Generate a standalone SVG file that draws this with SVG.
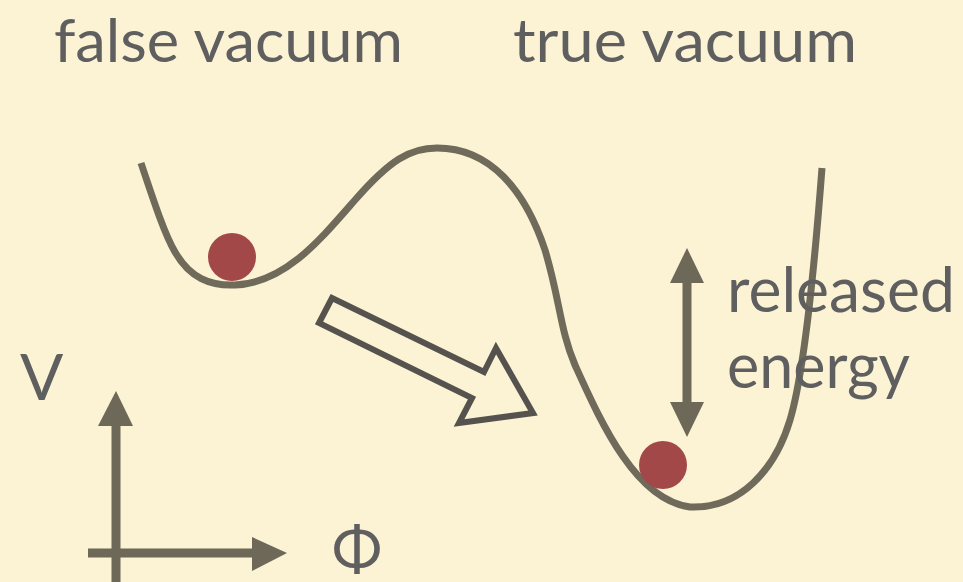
<svg xmlns="http://www.w3.org/2000/svg" width="963" height="582" viewBox="0 0 963 582">
<style>
.t{font-family:Lato,"Open Sans","Liberation Sans",sans-serif;fill:#5f5f60;}
.ax{stroke:#6e6858;stroke-width:9;fill:none;}
.hd{fill:#6e6858;}
.ball{fill:#a34848;}
</style>
<rect width="963" height="582" fill="#fbf3d4"/>
<g id="title-false"><text class="t" x="54" y="62" font-size="60" textLength="349" lengthAdjust="spacingAndGlyphs">false vacuum</text></g>
<g id="title-true"><text class="t" x="513" y="62" font-size="60" textLength="344" lengthAdjust="spacingAndGlyphs">true vacuum</text></g>
<g id="potential">
<path d="M141,163 C155,205 165,235 175,252 C190,278 210,286 235,285 C285,283 320,240 355,200 C390,160 410,148 437,148 C490,148 525,190 545,250 C560,300 560,330 575,365 C600,420 635,500 690,507 C740,509 775,470 790,420 C805,370 815,260 822,168" fill="none" stroke="#6f6a5a" stroke-width="7" stroke-linecap="butt"/>
</g>
<g id="ball-false"><circle class="ball" cx="232" cy="257" r="24"/></g>
<g id="ball-true"><circle class="ball" cx="663" cy="465" r="24"/></g>
<g id="connectors">
<polygon points="332,298 319,323 472,398 459,423 533,413 496,348 484,372" fill="none" stroke="#56534e" stroke-width="6" stroke-linejoin="miter"/>
<line class="ax" x1="687" y1="280" x2="687" y2="405"/>
<polygon class="hd" points="687,248 670,283 704,283"/>
<polygon class="hd" points="687,437 670,402 704,402"/>
</g>
<g id="energy-label">
<text class="t" x="727" y="312" font-size="62" textLength="228" lengthAdjust="spacingAndGlyphs">released</text>
<text class="t" x="727" y="388" font-size="62" textLength="183" lengthAdjust="spacingAndGlyphs">energy</text>
</g>
<g id="axes">
<line class="ax" x1="116" y1="422" x2="116" y2="582"/>
<polygon class="hd" points="116,391 98,426 133,426"/>
<line class="ax" x1="88" y1="553" x2="255" y2="553"/>
<polygon class="hd" points="287,553 252,537 252,571"/>
<text class="t" x="20" y="400" font-size="64">V</text>
<text class="t" x="332" y="570" font-size="60">Φ</text>
</g>
</svg>
